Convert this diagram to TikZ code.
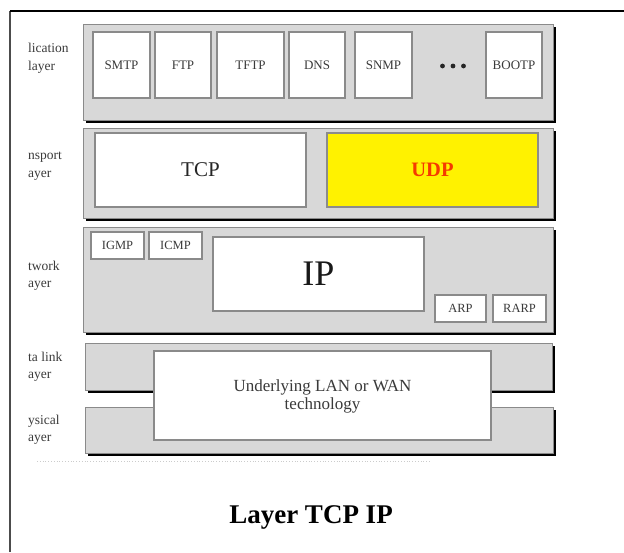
\documentclass[tikz,border=0pt]{standalone}
\usepackage{fontspec}
\setmainfont{Liberation Serif}
\usetikzlibrary{shadows}
\definecolor{panelgray}{HTML}{D8D8D8}
\definecolor{edgegray}{HTML}{8A8A8A}
\definecolor{txtgray}{HTML}{3A3A3A}
\definecolor{udpred}{HTML}{F53A00}
\tikzset{
  panel/.style={draw=edgegray, line width=0.9pt, fill=panelgray, inner sep=0pt,
    drop shadow={shadow xshift=3pt, shadow yshift=-3pt, fill=black, opacity=1}},
  box/.style={draw=edgegray, line width=1.1pt, fill=white, inner sep=0pt, text=txtgray},
  smallfont/.style={font=\fontsize{13}{15}\selectfont},
  tinyfont/.style={font=\fontsize{12.5}{14}\selectfont},
  laylabel/.style={anchor=base west, inner sep=0pt, text=txtgray, font=\fontsize{13.5}{15}\selectfont},
}
\begin{document}
\begin{tikzpicture}[x=1pt,y=-1pt]
\useasboundingbox (0,0) rectangle (624,552);
% outer frame
\draw[line width=1.4pt, black!70] (10,552) -- (10,11);
\draw[line width=1.4pt, black] (10,11) -- (624,11);
% layer panels
\node[panel, minimum width=470, minimum height=96] (app) at (318,72) {};
\node[panel, minimum width=470, minimum height=90] (trans) at (318,173) {};
\node[panel, minimum width=470, minimum height=105] (net) at (318,279.5) {};
\node[panel, minimum width=467, minimum height=47] (dl) at (318.5,366.5) {};
\node[panel, minimum width=468, minimum height=46] (phy) at (319,430) {};
% layer labels
\node[laylabel] (l1a) at (28,52) {lication};
\node[laylabel] (l1b) at (28,70) {layer};
\node[laylabel] (l2a) at (28,159) {nsport};
\node[laylabel] (l2b) at (28,177) {ayer};
\node[laylabel] (l3a) at (28,270) {twork};
\node[laylabel] (l3b) at (28,287) {ayer};
\node[laylabel] (l4a) at (28,361) {ta link};
\node[laylabel] (l4b) at (28,378) {ayer};
\node[laylabel] (l5a) at (28,424) {ysical};
\node[laylabel] (l5b) at (28,441) {ayer};
% application protocols
\node[box, smallfont, minimum width=57, minimum height=66] (smtp) at (121.5,65) {SMTP};
\node[box, smallfont, minimum width=56, minimum height=66] (ftp) at (183,65) {FTP};
\node[box, smallfont, minimum width=67, minimum height=66] (tftp) at (250.5,65) {TFTP};
\node[box, smallfont, minimum width=56, minimum height=66] (dns) at (317,65) {DNS};
\node[box, smallfont, minimum width=57, minimum height=66] (snmp) at (383.5,65) {SNMP};
\node[box, smallfont, minimum width=56, minimum height=66] (bootp) at (514,65) {BOOTP};
\fill[black!85] (442.5,66) circle (2.4) (453,66) circle (2.4) (463.5,66) circle (2.4);
% transport
\node[box, minimum width=211, minimum height=74, font=\fontsize{21}{24}\selectfont, text=black!85] (tcp) at (200.5,170) {TCP};
\node[box, fill=yellow, draw=black!45, minimum width=211, minimum height=74, font=\fontsize{20.5}{24}\selectfont\bfseries, text=udpred] (udp) at (432.5,170) {UDP};
% network
\node[box, tinyfont, minimum width=53, minimum height=27] (igmp) at (117.5,245.5) {IGMP};
\node[box, tinyfont, minimum width=53, minimum height=27] (icmp) at (175.5,245.5) {ICMP};
\node[box, minimum width=211, minimum height=74, font=\fontsize{36}{40}\selectfont, text=black!90] (ip) at (318.5,274) {IP};
\node[box, tinyfont, minimum width=51, minimum height=27] (arp) at (460.5,308.5) {ARP};
\node[box, tinyfont, minimum width=53, minimum height=27] (rarp) at (519.5,308.5) {RARP};
% underlying technology
\node[box, minimum width=337, minimum height=89] (lan) at (322.5,395.5) {};
\node[align=center, inner sep=0pt, text=txtgray, font=\fontsize{17}{18}\selectfont] (lantext) at (322.5,396.5) {Underlying LAN or WAN\\technology};
% faint residue line
\draw[black!20, line width=0.8pt, dotted] (37,461) -- (430,461);
% title
\node[font=\fontsize{27}{32}\selectfont\bfseries] (title) at (311,517) {Layer TCP IP};
\end{tikzpicture}
\end{document}
